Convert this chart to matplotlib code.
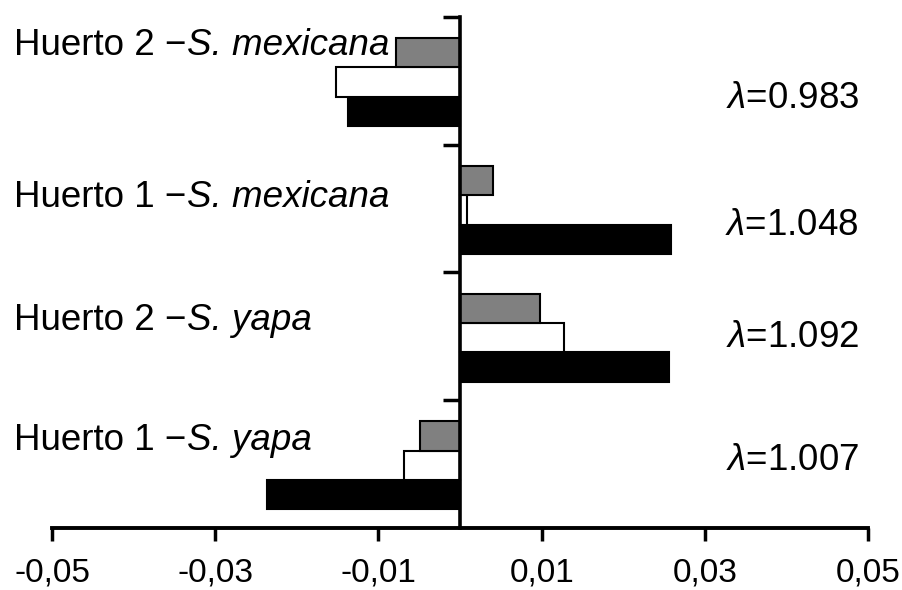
import matplotlib.pyplot as plt
import numpy as np

plt.rcParams['font.family'] = 'Liberation Sans'
plt.rcParams['mathtext.fontset'] = 'custom'
plt.rcParams['mathtext.rm'] = 'Liberation Sans'
plt.rcParams['mathtext.it'] = 'Liberation Sans:italic'

# groups listed from bottom to top
huertos = ["Huerto 1", "Huerto 2", "Huerto 1", "Huerto 2"]
especies = ["S. yapa", "S. yapa", "S. mexicana", "S. mexicana"]
lambdas = [1.007, 1.092, 1.048, 0.983]

serie_negra = [-0.0237, 0.0256, 0.0258, -0.0137]
serie_blanca = [-0.0069, 0.0128, 0.0008, -0.0152]
serie_gris = [-0.0049, 0.0098, 0.0040, -0.0078]

xticks = [-0.05, -0.03, -0.01, 0.01, 0.03, 0.05]
xtick_labels = ["-0,05", "-0,03", "-0,01", "0,01", "0,03", "0,05"]

fig = plt.figure(figsize=(9.03, 5.90), dpi=100)
ax = fig.add_axes([0.0576, 0.1051, 0.9037, 0.8661])

y = np.arange(len(huertos))
h = 0.23
off = -0.01
ax.barh(y - h + off, serie_negra, height=h, color='black', edgecolor='black', linewidth=1.5)
ax.barh(y + off, serie_blanca, height=h, color='white', edgecolor='black', linewidth=1.5)
ax.barh(y + h + off, serie_gris, height=h, color='#808080', edgecolor='black', linewidth=1.5)

ax.set_xlim(-0.05, 0.05)
ax.set_ylim(-0.5, 3.5)

# y axis sits at zero, only bottom and centre lines drawn
ax.spines['left'].set_position(('data', 0))
ax.spines['right'].set_visible(False)
ax.spines['top'].set_visible(False)
ax.spines['left'].set_linewidth(2.6)
ax.spines['bottom'].set_linewidth(2.8)

ax.set_yticks([0.5, 1.5, 2.5, 3.5])
ax.set_yticklabels([])
ax.tick_params(axis='y', direction='out', length=12, width=2.5)

ax.set_xticks(xticks)
ax.set_xticklabels(xtick_labels)
ax.tick_params(axis='x', direction='out', length=9, width=2.5, pad=12, labelsize=24)

# group labels on the left: plain site name, then the species in italics
label_y = [0.111, 1.050, 2.013, 3.203]
for i in range(len(huertos)):
    t = ax.text(-0.0546, label_y[i], huertos[i] + " \u2212",
                ha='left', va='baseline', fontsize=26.5)
    ax.annotate(especies[i], xy=(1, 0), xycoords=t, ha='left', va='bottom',
                fontsize=26.5, style='italic')

# growth rates on the right
lambda_y = [-0.046, 0.917, 1.794, 2.788]
for i in range(len(lambdas)):
    ax.text(0.0489, lambda_y[i], "$\\lambda$=" + f"{lambdas[i]:.3f}",
            ha='right', va='baseline', fontsize=26.5)

fig.savefig("out.png", dpi=100)
